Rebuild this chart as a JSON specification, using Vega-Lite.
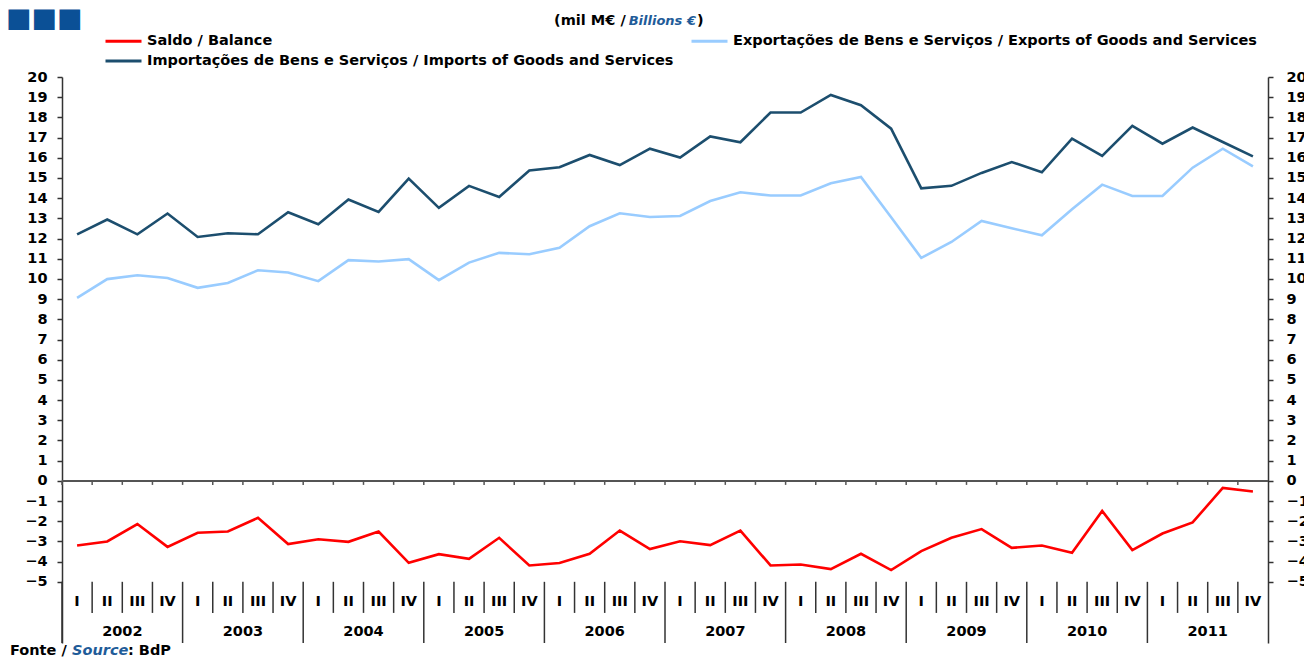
{
  "$schema": "https://vega.github.io/schema/vega-lite/v6.json",
  "width": 1206,
  "height": 566,
  "autosize": {"type": "none"},
  "padding": {"left": 62, "top": 77, "right": 36, "bottom": 17},
  "background": "white",
  "config": {
    "view": {"stroke": null},
    "font": "DejaVu Sans"
  },
  "data": {
    "values": [
      {"p": "2002 I", "yr": "2002", "q": "I", "imp": 12.21, "exp": 9.06, "bal": -3.20},
      {"p": "2002 II", "yr": "2002", "q": "II", "imp": 12.94, "exp": 9.99, "bal": -3.00},
      {"p": "2002 III", "yr": "2002", "q": "III", "imp": 12.21, "exp": 10.18, "bal": -2.14},
      {"p": "2002 IV", "yr": "2002", "q": "IV", "imp": 13.24, "exp": 10.05, "bal": -3.27},
      {"p": "2003 I", "yr": "2003", "q": "I", "imp": 12.08, "exp": 9.56, "bal": -2.57},
      {"p": "2003 II", "yr": "2003", "q": "II", "imp": 12.26, "exp": 9.80, "bal": -2.51},
      {"p": "2003 III", "yr": "2003", "q": "III", "imp": 12.21, "exp": 10.43, "bal": -1.83},
      {"p": "2003 IV", "yr": "2003", "q": "IV", "imp": 13.30, "exp": 10.32, "bal": -3.13},
      {"p": "2004 I", "yr": "2004", "q": "I", "imp": 12.71, "exp": 9.89, "bal": -2.89},
      {"p": "2004 II", "yr": "2004", "q": "II", "imp": 13.93, "exp": 10.93, "bal": -3.02},
      {"p": "2004 III", "yr": "2004", "q": "III", "imp": 13.32, "exp": 10.86, "bal": -2.51},
      {"p": "2004 IV", "yr": "2004", "q": "IV", "imp": 14.97, "exp": 10.98, "bal": -4.06},
      {"p": "2005 I", "yr": "2005", "q": "I", "imp": 13.52, "exp": 9.94, "bal": -3.63},
      {"p": "2005 II", "yr": "2005", "q": "II", "imp": 14.61, "exp": 10.81, "bal": -3.86},
      {"p": "2005 III", "yr": "2005", "q": "III", "imp": 14.06, "exp": 11.29, "bal": -2.82},
      {"p": "2005 IV", "yr": "2005", "q": "IV", "imp": 15.37, "exp": 11.22, "bal": -4.19},
      {"p": "2006 I", "yr": "2006", "q": "I", "imp": 15.53, "exp": 11.54, "bal": -4.07},
      {"p": "2006 II", "yr": "2006", "q": "II", "imp": 16.14, "exp": 12.61, "bal": -3.61},
      {"p": "2006 III", "yr": "2006", "q": "III", "imp": 15.64, "exp": 13.25, "bal": -2.46},
      {"p": "2006 IV", "yr": "2006", "q": "IV", "imp": 16.45, "exp": 13.07, "bal": -3.38},
      {"p": "2007 I", "yr": "2007", "q": "I", "imp": 16.01, "exp": 13.12, "bal": -2.99},
      {"p": "2007 II", "yr": "2007", "q": "II", "imp": 17.06, "exp": 13.86, "bal": -3.18},
      {"p": "2007 III", "yr": "2007", "q": "III", "imp": 16.77, "exp": 14.29, "bal": -2.46},
      {"p": "2007 IV", "yr": "2007", "q": "IV", "imp": 18.24, "exp": 14.13, "bal": -4.19},
      {"p": "2008 I", "yr": "2008", "q": "I", "imp": 18.24, "exp": 14.13, "bal": -4.14},
      {"p": "2008 II", "yr": "2008", "q": "II", "imp": 19.11, "exp": 14.74, "bal": -4.37},
      {"p": "2008 III", "yr": "2008", "q": "III", "imp": 18.60, "exp": 15.05, "bal": -3.61},
      {"p": "2008 IV", "yr": "2008", "q": "IV", "imp": 17.44, "exp": 13.05, "bal": -4.42},
      {"p": "2009 I", "yr": "2009", "q": "I", "imp": 14.49, "exp": 11.04, "bal": -3.48},
      {"p": "2009 II", "yr": "2009", "q": "II", "imp": 14.61, "exp": 11.83, "bal": -2.82},
      {"p": "2009 III", "yr": "2009", "q": "III", "imp": 15.25, "exp": 12.87, "bal": -2.39},
      {"p": "2009 IV", "yr": "2009", "q": "IV", "imp": 15.79, "exp": 12.51, "bal": -3.32},
      {"p": "2010 I", "yr": "2010", "q": "I", "imp": 15.28, "exp": 12.16, "bal": -3.20},
      {"p": "2010 II", "yr": "2010", "q": "II", "imp": 16.95, "exp": 13.45, "bal": -3.56},
      {"p": "2010 III", "yr": "2010", "q": "III", "imp": 16.09, "exp": 14.67, "bal": -1.49},
      {"p": "2010 IV", "yr": "2010", "q": "IV", "imp": 17.58, "exp": 14.11, "bal": -3.43},
      {"p": "2011 I", "yr": "2011", "q": "I", "imp": 16.70, "exp": 14.11, "bal": -2.61},
      {"p": "2011 II", "yr": "2011", "q": "II", "imp": 17.50, "exp": 15.51, "bal": -2.06},
      {"p": "2011 III", "yr": "2011", "q": "III", "imp": 16.78, "exp": 16.45, "bal": -0.35},
      {"p": "2011 IV", "yr": "2011", "q": "IV", "imp": 16.07, "exp": 15.58, "bal": -0.53}
    ]
  },
  "layer": [
    {
      "mark": {"type": "rule", "color": "#555555", "strokeWidth": 1.5},
      "encoding": {
        "y": {"datum": 0, "type": "quantitative",
              "scale": {"domain": [-8.03, 20], "nice": false, "zero": false},
              "axis": {"orient": "right", "title": null, "values": [-5,-4,-3,-2,-1,0,1,2,3,4,5,6,7,8,9,10,11,12,13,14,15,16,17,18,19,20],
                       "grid": false, "domainColor": "#333333", "domainWidth": 1.5, "tickColor": "#333333", "tickWidth": 1.5, "tickSize": 5,
                       "labelFont": "DejaVu Sans", "labelFontWeight": "bold", "labelFontSize": 14.5, "labelColor": "black", "labelPadding": 13}}
      }
    },
    {
      "transform": [{"fold": ["bal", "exp", "imp"], "as": ["series", "value"]}],
      "mark": {"type": "line", "strokeWidth": 2.6},
      "encoding": {
        "x": {"field": "p", "type": "nominal", "bandPosition": 0.5,
              "scale": {"type": "band", "paddingInner": 0, "paddingOuter": 0}, "axis": null},
        "y": {"field": "value", "type": "quantitative",
              "scale": {"domain": [-8.03, 20], "nice": false, "zero": false},
              "axis": {"orient": "left", "title": null, "values": [-5,-4,-3,-2,-1,0,1,2,3,4,5,6,7,8,9,10,11,12,13,14,15,16,17,18,19,20],
                       "grid": false, "domainColor": "#333333", "domainWidth": 1.5, "tickColor": "#333333", "tickWidth": 1.5, "tickSize": 5,
                       "labelFont": "DejaVu Sans", "labelFontWeight": "bold", "labelFontSize": 14.5, "labelColor": "black", "labelPadding": 10}},
        "color": {"field": "series", "type": "nominal",
                  "scale": {"domain": ["bal", "imp", "exp"], "range": ["#FF0000", "#1C4E6E", "#99CCFF"]},
                  "legend": {"orient": "none", "legendX": 42, "legendY": -45, "columns": 2, "title": null, "padding": 0,
                             "symbolType": "stroke", "symbolSize": 1296, "symbolStrokeWidth": 3,
                             "labelFont": "DejaVu Sans", "labelFontWeight": "bold", "labelFontSize": 14.5, "labelColor": "black",
                             "labelOffset": 4, "labelLimit": 0, "columnPadding": 11, "rowPadding": 4,
                             "encode": {"symbols": {"update": {"y": {"value": 9}}}, "labels": {"update": {"y": {"value": 9}}}},
                             "labelExpr": "datum.label == 'bal' ? 'Saldo / Balance' : datum.label == 'exp' ? 'Exportações de Bens e Serviços / Exports of Goods and Services' : 'Importações de Bens e Serviços / Imports of Goods and Services'"}}
      }
    },
    {
      "mark": {"type": "rule", "color": "#555555", "strokeWidth": 1.5},
      "encoding": {
        "x": {"field": "p", "type": "nominal", "bandPosition": 0, "axis": null},
        "y": {"datum": 0, "type": "quantitative", "scale": {"domain": [-8.03, 20], "nice": false, "zero": false}, "axis": null},
        "y2": {"datum": -0.2}
      }
    },
    {
      "transform": [{"filter": "datum.q != 'I'"}],
      "mark": {"type": "rule", "color": "#333333", "strokeWidth": 1.5},
      "encoding": {
        "x": {"field": "p", "type": "nominal", "bandPosition": 0, "axis": null},
        "y": {"datum": -5, "type": "quantitative", "scale": {"domain": [-8.03, 20], "nice": false, "zero": false}, "axis": null},
        "y2": {"datum": -6.54}
      }
    },
    {
      "transform": [{"filter": "datum.q == 'I'"}],
      "mark": {"type": "rule", "color": "#333333", "strokeWidth": 1.5},
      "encoding": {
        "x": {"field": "p", "type": "nominal", "bandPosition": 0, "axis": null},
        "y": {"datum": -5, "type": "quantitative", "scale": {"domain": [-8.03, 20], "nice": false, "zero": false}, "axis": null},
        "y2": {"datum": -8.03}
      }
    },
    {
      "mark": {"type": "text", "baseline": "middle", "align": "center", "font": "DejaVu Sans", "fontWeight": "bold", "fontSize": 14.5, "color": "black"},
      "encoding": {
        "x": {"field": "p", "type": "nominal", "bandPosition": 0.5, "axis": null},
        "y": {"datum": -5.98, "type": "quantitative", "scale": {"domain": [-8.03, 20], "nice": false, "zero": false}, "axis": null},
        "text": {"field": "q"}
      }
    },
    {
      "transform": [{"filter": "datum.q == 'III'"}],
      "mark": {"type": "text", "baseline": "middle", "align": "center", "font": "DejaVu Sans", "fontWeight": "bold", "fontSize": 14.5, "color": "black"},
      "encoding": {
        "x": {"field": "p", "type": "nominal", "bandPosition": 0, "axis": null},
        "y": {"datum": -7.48, "type": "quantitative", "scale": {"domain": [-8.03, 20], "nice": false, "zero": false}, "axis": null},
        "text": {"field": "yr"}
      }
    },
    {
      "transform": [{"filter": "datum.p == '2006 III'"}],
      "mark": {"type": "text", "baseline": "middle", "align": "right", "dx": 21, "font": "DejaVu Sans", "fontWeight": "bold", "fontSize": 14.5, "color": "black"},
      "encoding": {
        "x": {"field": "p", "type": "nominal", "bandPosition": 0, "axis": null},
        "y": {"datum": 22.77, "type": "quantitative", "scale": {"domain": [-8.03, 20], "nice": false, "zero": false}, "axis": null},
        "text": {"value": "(mil M€ /"}
      }
    },
    {
      "transform": [{"filter": "datum.p == '2006 III'"}],
      "mark": {"type": "text", "baseline": "middle", "align": "left", "dx": 24, "font": "DejaVu Sans", "fontWeight": "bold", "fontSize": 13, "fontStyle": "italic", "color": "#1F5C99"},
      "encoding": {
        "x": {"field": "p", "type": "nominal", "bandPosition": 0, "axis": null},
        "y": {"datum": 22.77, "type": "quantitative", "scale": {"domain": [-8.03, 20], "nice": false, "zero": false}, "axis": null},
        "text": {"value": "Billions €"}
      }
    },
    {
      "transform": [{"filter": "datum.p == '2006 III'"}],
      "mark": {"type": "text", "baseline": "middle", "align": "right", "dx": 99, "font": "DejaVu Sans", "fontWeight": "bold", "fontSize": 14.5, "color": "black"},
      "encoding": {
        "x": {"field": "p", "type": "nominal", "bandPosition": 0, "axis": null},
        "y": {"datum": 22.77, "type": "quantitative", "scale": {"domain": [-8.03, 20], "nice": false, "zero": false}, "axis": null},
        "text": {"value": ")"}
      }
    },
    {
      "transform": [{"filter": "datum.p == '2002 I'"}],
      "mark": {"type": "text", "baseline": "middle", "align": "left", "dx": -52, "font": "DejaVu Sans", "fontWeight": "bold", "fontSize": 14.5, "color": "black"},
      "encoding": {
        "x": {"field": "p", "type": "nominal", "bandPosition": 0, "axis": null},
        "y": {"datum": -8.43, "type": "quantitative", "scale": {"domain": [-8.03, 20], "nice": false, "zero": false}, "axis": null},
        "text": {"value": "Fonte /"}
      }
    },
    {
      "transform": [{"filter": "datum.p == '2002 I'"}],
      "mark": {"type": "text", "baseline": "middle", "align": "left", "dx": 10, "font": "DejaVu Sans", "fontWeight": "bold", "fontSize": 14.5, "fontStyle": "italic", "color": "#1F5C99"},
      "encoding": {
        "x": {"field": "p", "type": "nominal", "bandPosition": 0, "axis": null},
        "y": {"datum": -8.43, "type": "quantitative", "scale": {"domain": [-8.03, 20], "nice": false, "zero": false}, "axis": null},
        "text": {"value": "Source"}
      }
    },
    {
      "transform": [{"filter": "datum.p == '2002 I'"}],
      "mark": {"type": "text", "baseline": "middle", "align": "left", "dx": 66, "font": "DejaVu Sans", "fontWeight": "bold", "fontSize": 14.5, "color": "black"},
      "encoding": {
        "x": {"field": "p", "type": "nominal", "bandPosition": 0, "axis": null},
        "y": {"datum": -8.43, "type": "quantitative", "scale": {"domain": [-8.03, 20], "nice": false, "zero": false}, "axis": null},
        "text": {"value": ": BdP"}
      }
    },
    {
      "transform": [{"filter": "datum.p == '2002 I'"}],
      "mark": {"type": "text", "baseline": "middle", "align": "left", "dx": -56, "font": "DejaVu Sans", "fontSize": 27, "color": "#0B5096"},
      "encoding": {
        "x": {"field": "p", "type": "nominal", "bandPosition": 0, "axis": null},
        "y": {"datum": 22.85, "type": "quantitative", "scale": {"domain": [-8.03, 20], "nice": false, "zero": false}, "axis": null},
        "text": {"value": "■■■"}
      }
    }
  ],
  "resolve": {"scale": {"y": "independent"}}
}
